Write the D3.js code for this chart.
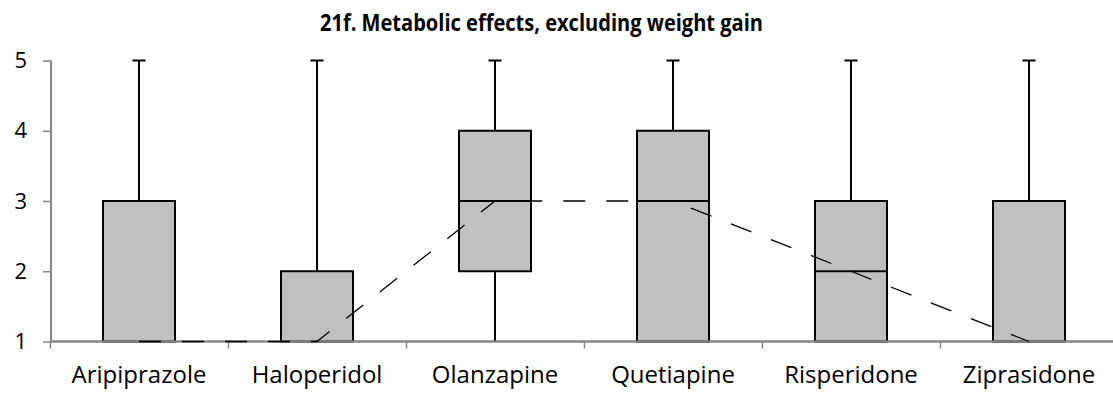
<!DOCTYPE html>
<html>
<head>
<meta charset="utf-8">
<script src="https://cdn.jsdelivr.net/npm/d3@7"></script>
<style>
  html, body { margin: 0; padding: 0; background: #fff; }
  svg { display: block; }
</style>
</head>
<body>
<svg id="chart" width="1113" height="398"></svg>
<script>
// Box-plot summaries per drug (rating scale 1–5)
const categories = ["Aripiprazole", "Haloperidol", "Olanzapine", "Quetiapine", "Risperidone", "Ziprasidone"];
const minValues    = [1, 1, 1, 1, 1, 1];
const q1Values     = [1, 1, 2, 1, 1, 1];
const medianValues = [1, 1, 3, 3, 2, 1];
const q3Values     = [3, 2, 4, 4, 3, 3];
const maxValues    = [5, 5, 5, 5, 5, 5];
const yTicks = [1, 2, 3, 4, 5];
const title = "21f. Metabolic effects, excluding weight gain";

const svg = d3.select("#chart");
const W = 1113, H = 398;
const plotLeft = 51, plotTop = 60.5, plotBottom = 341.5;
const bandW = 178;

const x = d3.scaleBand().domain(categories)
  .range([50, 50 + bandW * categories.length]).padding(0);
const xEdge = d3.scaleLinear().domain([0, categories.length])
  .range([50, 50 + bandW * categories.length]);
const y = d3.scaleLinear().domain([1, 5]).range([plotBottom, plotTop]);

const axisColor = "#868686";
const fontFam = "'Open Sans', 'DejaVu Sans', sans-serif";

// Title (condensed to fit its width)
svg.append("text")
  .attr("x", 541.5).attr("y", 31)
  .attr("text-anchor", "middle")
  .attr("font-family", fontFam)
  .attr("font-weight", "bold")
  .attr("font-size", 24)
  .attr("textLength", 443)
  .attr("lengthAdjust", "spacingAndGlyphs")
  .attr("fill", "#000")
  .text(title);

// Y axis
const yAxis = svg.append("g")
  .attr("transform", `translate(${plotLeft},0)`)
  .call(d3.axisLeft(y).tickValues(yTicks).tickFormat(d3.format("d")).tickSize(8).tickPadding(16));
yAxis.select(".domain").attr("stroke", axisColor).attr("stroke-width", 2)
  .attr("d", `M0,${plotTop}V${plotBottom}`);
yAxis.selectAll(".tick line").attr("stroke", axisColor).attr("stroke-width", 1.5);
yAxis.selectAll(".tick text")
  .attr("font-family", fontFam).attr("font-size", 22).attr("fill", "#000");

// X axis: boundary ticks between categories
const xAxis = svg.append("g")
  .attr("transform", `translate(0,${plotBottom})`)
  .call(d3.axisBottom(xEdge).tickValues(d3.range(0, categories.length + 1)).tickFormat("").tickSize(7).tickSizeOuter(0));
xAxis.select(".domain").attr("stroke", axisColor).attr("stroke-width", 2)
  .attr("d", `M${plotLeft},0H${W}`);
xAxis.selectAll(".tick line").attr("stroke", axisColor).attr("stroke-width", 1.5);

// Category labels
const xLab = svg.append("g")
  .attr("transform", `translate(0,${plotBottom})`)
  .call(d3.axisBottom(x).tickSize(0).tickPadding(24.5));
xLab.select(".domain").remove();
xLab.selectAll(".tick text")
  .attr("font-family", fontFam).attr("font-size", 24).attr("fill", "#000");

// Boxes
const boxW = 72, capW = 13;
const data = categories.map((c, i) => ({
  c, min: minValues[i], q1: q1Values[i], med: medianValues[i], q3: q3Values[i], max: maxValues[i]
}));
const boxes = svg.append("g").selectAll("g").data(data).join("g")
  .attr("transform", d => `translate(${x(d.c) + x.bandwidth() / 2},0)`);

// upper whisker
boxes.append("line")
  .attr("x1", 0).attr("x2", 0)
  .attr("y1", d => y(d.q3)).attr("y2", d => y(d.max))
  .attr("stroke", "#000").attr("stroke-width", 2);
boxes.append("line")
  .attr("x1", -capW / 2).attr("x2", capW / 2)
  .attr("y1", d => y(d.max)).attr("y2", d => y(d.max))
  .attr("stroke", "#000").attr("stroke-width", 2);
// lower whisker
boxes.filter(d => d.q1 > d.min).append("line")
  .attr("x1", 0).attr("x2", 0)
  .attr("y1", d => y(d.q1)).attr("y2", d => y(d.min))
  .attr("stroke", "#000").attr("stroke-width", 2);

// box body
boxes.append("rect")
  .attr("x", -boxW / 2).attr("width", boxW)
  .attr("y", d => y(d.q3)).attr("height", d => y(d.q1) - y(d.q3))
  .attr("fill", "#c0c0c0").attr("stroke", "#000").attr("stroke-width", 2);
// median line
boxes.filter(d => d.med > d.q1).append("line")
  .attr("x1", -boxW / 2).attr("x2", boxW / 2)
  .attr("y1", d => y(d.med)).attr("y2", d => y(d.med))
  .attr("stroke", "#000").attr("stroke-width", 2);

// Redraw the base axis line over the boxes that sit on the floor
svg.append("line")
  .attr("x1", plotLeft).attr("x2", W)
  .attr("y1", plotBottom).attr("y2", plotBottom)
  .attr("stroke", axisColor).attr("stroke-width", 2);

// Dashed line through the medians
const medLine = d3.line()
  .x(d => x(d.c) + x.bandwidth() / 2)
  .y(d => y(d.med));
svg.append("path")
  .datum(data)
  .attr("d", medLine)
  .attr("fill", "none")
  .attr("stroke", "#000")
  .attr("stroke-width", 1.3)
  .attr("stroke-dasharray", "22,21");
</script>
</body>
</html>
